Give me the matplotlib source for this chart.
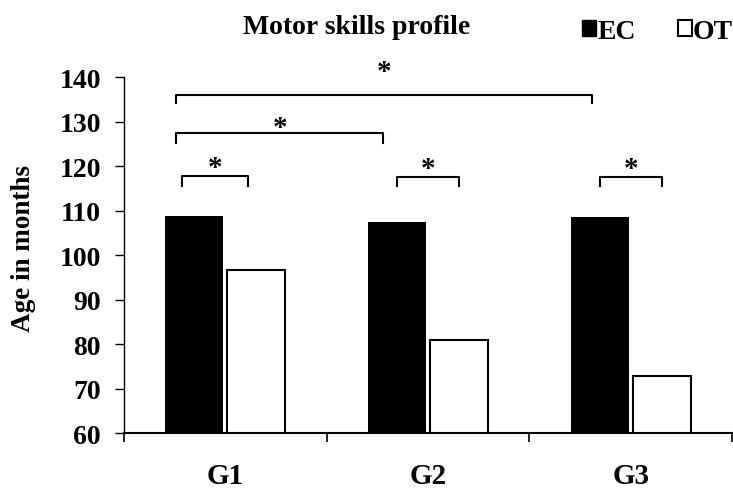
import numpy as np
import matplotlib.pyplot as plt
from matplotlib.patches import Patch

# ── 1. Data ───────────────────────────────────────────────────────────────────

groups = ["G1", "G2", "G3"]
ec_values = [108.8, 107.4, 108.5]
ot_values = [96.8, 81.0, 72.8]
y_ticks = [60, 70, 80, 90, 100, 110, 120, 130, 140]

# ── 2. Style ──────────────────────────────────────────────────────────────────

plt.rcParams['font.family'] = ['Liberation Serif', 'DejaVu Serif']
plt.rcParams['font.weight'] = 'bold'

x = np.arange(len(groups))
bar_w = 0.285
off = 0.153
ec_x = x - off
ot_x = x + off

# significance brackets: left x, right x, line height, leg bottom
brackets = [
    (ec_x[0] - 0.06, ot_x[0] - 0.04, 117.9, 115.5),
    (ec_x[1], ot_x[1], 117.5, 115.5),
    (ec_x[2], ot_x[2], 117.5, 115.5),
    (ec_x[0] - 0.09, ec_x[1] - 0.067, 127.4, 125.3),
    (ec_x[0] - 0.09, ec_x[2] - 0.04, 136.0, 134.2),
]
star_gap = [1.9, 1.9, 1.9, 1.4, 5.4]

# ── 3. Plot ───────────────────────────────────────────────────────────────────

fig = plt.figure(figsize=(7.33, 4.89), dpi=100)
ax = fig.add_axes([0.1692, 0.1118, 0.8295, 0.7281])

ax.bar(ec_x, ec_values, width=bar_w, color='black', edgecolor='black', linewidth=0)
ax.bar(ot_x, ot_values, width=bar_w, color='white', edgecolor='black', linewidth=1.5)

for (x1, x2, yl, yb), g in zip(brackets, star_gap):
    ax.plot([x1, x1, x2, x2], [yb, yl, yl, yb], color='black', lw=1.5, clip_on=False)
    ax.text((x1 + x2) / 2, yl + g, '*', ha='center', va='center', fontsize=21, clip_on=False)

ax.set_xlim(-0.5, 2.5)
ax.set_ylim(60, 140)
ax.set_yticks(y_ticks)
ax.set_xticks([-0.5, 0.5, 1.5, 2.5])
ax.set_xticklabels([])
ax.set_xticks(x, minor=True)
ax.set_xticklabels(groups, minor=True)
ax.tick_params(axis='x', which='major', direction='out', length=6.5, width=1.2)
ax.tick_params(axis='x', which='minor', length=0, pad=21, labelsize=21)
ax.tick_params(axis='y', direction='out', length=6.5, width=1, pad=10, labelsize=20)

ax.spines['top'].set_visible(False)
ax.spines['right'].set_visible(False)
ax.spines['left'].set_linewidth(1)
ax.spines['bottom'].set_linewidth(1.5)

ax.set_ylabel("Age in months", fontsize=19.5, fontweight='bold')
ax.yaxis.set_label_coords(-0.145, 0.523)

fig.text(0.486, 0.943, "Motor skills profile", ha='center', va='center', fontsize=20, fontweight='bold')

handles = [Patch(facecolor='black', edgecolor='black'),
           Patch(facecolor='white', edgecolor='black', linewidth=1.5)]
fig.legend(handles, ["EC", "OT"], loc='upper right', bbox_to_anchor=(1.0, 0.96),
           ncol=2, frameon=False, fontsize=20, handlelength=0.5, handleheight=0.5,
           handletextpad=0.05, columnspacing=1.5, borderpad=0, borderaxespad=0)

fig.savefig("out.png", dpi=100)
